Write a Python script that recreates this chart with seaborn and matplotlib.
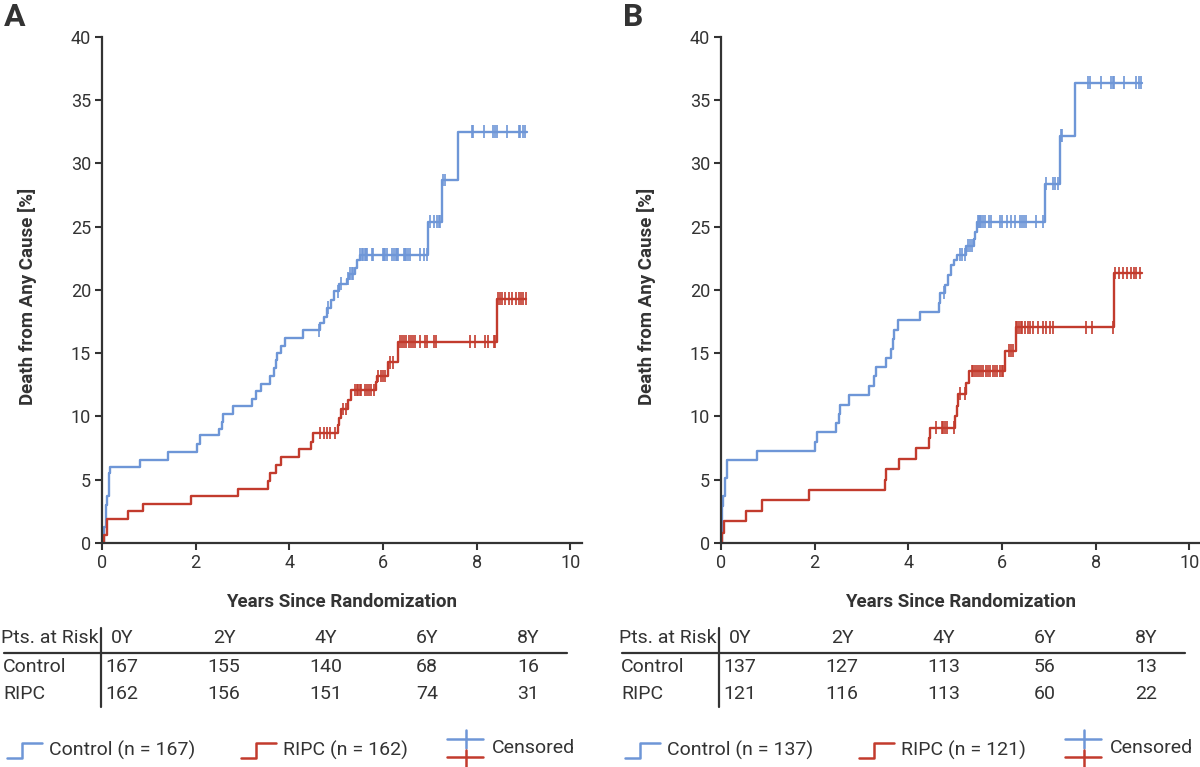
import numpy as np
import pandas as pd
import matplotlib
matplotlib.use("Agg")
import matplotlib.pyplot as plt
from matplotlib.lines import Line2D
import seaborn as sns

# ---------------- data ----------------
# Panel A
a_ctrl_t = [0, 0.05, 0.08, 0.10, 0.15, 0.17, 0.81, 1.40, 2.02, 2.09, 2.49, 2.56, 2.59, 2.79,
            3.21, 3.28, 3.39, 3.59, 3.68, 3.71, 3.74, 3.82, 3.91, 4.29, 4.66, 4.73, 4.81, 4.89,
            4.96, 5.07, 5.23, 5.28, 5.41, 5.44, 5.50, 6.97, 7.26, 7.61, 9.07]
a_ctrl_p = [0, 1.3, 3.0, 3.7, 5.5, 6.0, 6.6, 7.2, 7.8, 8.5, 9.0, 9.6, 10.2, 10.8,
            11.4, 12.0, 12.6, 13.2, 13.8, 14.5, 15.0, 15.6, 16.2, 16.8, 17.4, 17.9, 18.6, 19.2,
            19.9, 20.5, 20.9, 21.3, 21.7, 22.4, 22.8, 25.4, 28.7, 32.5, 32.5]
a_ctrl_c = [4.63, 4.83, 5.05, 5.10, 5.25, 5.30, 5.33, 5.36, 5.52, 5.55, 5.58, 5.61, 5.64, 5.66,
            5.76, 5.79, 6.00, 6.03, 6.05, 6.08, 6.19, 6.24, 6.27, 6.30, 6.33, 6.44, 6.47, 6.50,
            6.53, 6.57, 6.79, 6.87, 6.94, 7.01, 7.08, 7.15, 7.19, 7.22, 7.29, 7.33, 7.90, 7.93,
            8.15, 8.36, 8.40, 8.44, 8.65, 8.90, 8.93, 9.00, 9.04]
a_ripc_t = [0, 0.05, 0.10, 0.55, 0.88, 1.90, 2.91, 3.54, 3.58, 3.71, 3.82, 4.20, 4.47, 4.50,
            5.03, 5.07, 5.10, 5.26, 5.31, 5.85, 5.88, 6.10, 6.32, 8.43, 9.06]
a_ripc_p = [0, 0.6, 1.9, 2.5, 3.1, 3.7, 4.3, 4.9, 5.5, 6.2, 6.8, 7.4, 8.0, 8.7,
            9.3, 9.9, 10.6, 11.3, 12.1, 12.7, 13.2, 14.3, 15.9, 19.3, 19.3]
a_ripc_c = [4.66, 4.73, 4.80, 4.87, 4.98, 5.14, 5.21, 5.41, 5.44, 5.47, 5.50, 5.53, 5.62, 5.66,
            5.70, 5.75, 5.80, 5.90, 5.95, 6.00, 6.05, 6.16, 6.21, 6.37, 6.41, 6.45, 6.50, 6.55,
            6.60, 6.64, 6.69, 6.79, 6.90, 6.95, 7.08, 7.14, 7.86, 7.97, 8.17, 8.25, 8.38, 8.40,
            8.45, 8.50, 8.55, 8.60, 8.70, 8.75, 8.85, 8.90, 8.95, 9.00, 9.05]

# Panel B
b_ctrl_t = [0, 0.03, 0.05, 0.08, 0.12, 0.76, 2.00, 2.06, 2.45, 2.52, 2.55, 2.74, 3.16, 3.26,
            3.32, 3.53, 3.64, 3.67, 3.69, 3.77, 4.24, 4.65, 4.68, 4.78, 4.85, 4.92, 4.97, 5.03,
            5.24, 5.40, 5.43, 5.47, 6.92, 7.23, 7.56, 8.98]
b_ctrl_p = [0, 2.9, 3.7, 5.1, 6.6, 7.3, 8.0, 8.8, 9.5, 10.2, 10.9, 11.7, 12.4, 13.2,
            13.9, 14.6, 15.3, 16.1, 16.8, 17.6, 18.3, 19.0, 19.8, 20.4, 21.2, 22.0, 22.4, 22.8,
            23.5, 24.0, 24.6, 25.4, 28.4, 32.2, 36.4, 36.4]
b_ctrl_c = [4.76, 5.10, 5.14, 5.20, 5.28, 5.32, 5.36, 5.49, 5.51, 5.53, 5.56, 5.60, 5.63, 5.72,
            5.77, 5.95, 6.00, 6.11, 6.20, 6.27, 6.38, 6.43, 6.48, 6.52, 6.73, 6.87, 6.94, 7.08,
            7.14, 7.19, 7.25, 7.28, 7.83, 7.88, 8.12, 8.33, 8.37, 8.40, 8.60, 8.86, 8.93, 8.97]
b_ripc_t = [0, 0.02, 0.06, 0.53, 0.87, 1.88, 3.51, 3.53, 3.80, 4.16, 4.44, 4.47, 5.00, 5.04,
            5.07, 5.24, 5.29, 6.06, 6.29, 8.39, 8.98]
b_ripc_p = [0, 0.8, 1.7, 2.55, 3.4, 4.2, 5.0, 5.85, 6.65, 7.5, 8.3, 9.1, 10.0, 10.8,
            11.8, 12.65, 13.6, 15.2, 17.05, 21.35, 21.35]
b_ripc_c = [4.60, 4.71, 4.74, 4.78, 4.83, 4.98, 5.11, 5.20, 5.35, 5.38, 5.42, 5.46, 5.50, 5.55,
            5.60, 5.65, 5.70, 5.75, 5.80, 5.85, 5.90, 5.95, 6.00, 6.02, 6.14, 6.19, 6.24, 6.30,
            6.33, 6.36, 6.40, 6.43, 6.50, 6.55, 6.60, 6.66, 6.77, 6.87, 6.94, 7.03, 7.09, 7.80,
            7.93, 8.37, 8.42, 8.49, 8.58, 8.68, 8.75, 8.82, 8.87, 8.94]

# risk tables
risk_cols = ["0Y", "2Y", "4Y", "6Y", "8Y"]
a_risk_ctrl = [167, 155, 140, 68, 16]
a_risk_ripc = [162, 156, 151, 74, 31]
b_risk_ctrl = [137, 127, 113, 56, 13]
b_risk_ripc = [121, 116, 113, 60, 22]
a_n = (167, 162)
b_n = (137, 121)

x_ticks = [0, 2, 4, 6, 8, 10]
y_ticks = [0, 5, 10, 15, 20, 25, 30, 35, 40]

# ---------------- style ----------------
BLUE = "#6E96D7"
RED = "#C23B2D"
TXT = "#333333"
pal = {"Control": BLUE, "RIPC": RED}

sns.set_theme(style="white")
plt.rcParams["font.family"] = ["Roboto", "DejaVu Sans"]
plt.rcParams["text.color"] = TXT

fig = plt.figure(figsize=(12, 7.67), dpi=100)
W, H = 1200.0, 767.0


def step_value(t, p, c):
    t = np.asarray(t)
    p = np.asarray(p)
    idx = np.searchsorted(t, np.asarray(c), side="right") - 1
    return p[idx]


def panel(left_px, ct, cp, cc, rt, rp, rc):
    ax = fig.add_axes([left_px / W, 1 - 543 / H, 480 / W, 506 / H])
    curves = pd.concat([
        pd.DataFrame({"t": ct, "p": cp, "g": "Control"}),
        pd.DataFrame({"t": rt, "p": rp, "g": "RIPC"}),
    ], ignore_index=True)
    cens = pd.concat([
        pd.DataFrame({"t": cc, "p": step_value(ct, cp, cc), "g": "Control"}),
        pd.DataFrame({"t": rc, "p": step_value(rt, rp, rc), "g": "RIPC"}),
    ], ignore_index=True)
    sns.lineplot(data=curves, x="t", y="p", hue="g", palette=pal, estimator=None,
                 sort=False, drawstyle="steps-post", linewidth=1.7, legend=False, ax=ax)
    sns.scatterplot(data=cens, x="t", y="p", hue="g", palette=pal, marker="|",
                    s=85, linewidth=1.2, legend=False, ax=ax, zorder=3)
    ax.set_xlim(0, 10.25)
    ax.set_ylim(0, 40)
    ax.set_xticks(x_ticks)
    ax.set_yticks(y_ticks)
    for s in ["top", "right"]:
        ax.spines[s].set_visible(False)
    for s in ["left", "bottom"]:
        ax.spines[s].set_color(TXT)
        ax.spines[s].set_linewidth(1.6)
    ax.tick_params(direction="out", length=5, width=1.5, color=TXT, labelsize=13,
                   labelcolor=TXT, pad=3, left=True, bottom=True)
    ax.set_xlabel("Years Since Randomization", fontsize=13.5, fontweight="bold", color=TXT)
    ax.set_ylabel("Death from Any Cause [%]", fontsize=13.5, fontweight="bold", color=TXT)
    ax.xaxis.set_label_coords(0.5, -0.098)
    ax.yaxis.set_label_coords(-0.135, 0.487)
    return ax


axA = panel(102, a_ctrl_t, a_ctrl_p, a_ctrl_c, a_ripc_t, a_ripc_p, a_ripc_c)
axB = panel(721, b_ctrl_t, b_ctrl_p, b_ctrl_c, b_ripc_t, b_ripc_p, b_ripc_c)

fig.text(4 / W, 1 - 2 / H, "A", fontsize=23, fontweight="bold", color=TXT, va="top", ha="left")
fig.text(623 / W, 1 - 2 / H, "B", fontsize=23, fontweight="bold", color=TXT, va="top", ha="left")

# ---------------- risk tables & legends (overlay in pixel units) ----------------
ov = fig.add_axes([0, 0, 1, 1])
ov.set_xlim(0, W)
ov.set_ylim(H, 0)
ov.axis("off")

col_x = [122, 224, 326, 427, 528]
FS = 14


def table_and_legend(off, ctrl, ripc, n):
    ov.text(off + 1, 638, "Pts. at Risk", fontsize=FS, va="center", ha="left", color=TXT)
    ov.text(off + 3, 667, "Control", fontsize=FS, va="center", ha="left", color=TXT)
    ov.text(off + 3, 694, "RIPC", fontsize=FS, va="center", ha="left", color=TXT)
    for cx, lab, v1, v2 in zip(col_x, risk_cols, ctrl, ripc):
        ov.text(off + cx, 638, lab, fontsize=FS, va="center", ha="center", color=TXT)
        ov.text(off + cx, 667, str(v1), fontsize=FS, va="center", ha="center", color=TXT)
        ov.text(off + cx, 694, str(v2), fontsize=FS, va="center", ha="center", color=TXT)
    ov.add_line(Line2D([off + 4, off + 567], [653, 653], color=TXT, lw=1.6))
    ov.add_line(Line2D([off + 101, off + 101], [628, 707], color=TXT, lw=1.6))
    # legend step icons
    for x0, col, lab in [(7, BLUE, f"Control (n = {n[0]})"), (241, RED, f"RIPC (n = {n[1]})")]:
        ov.add_line(Line2D([off + x0, off + x0 + 15, off + x0 + 15, off + x0 + 35],
                           [758, 758, 743, 743], color=col, lw=1.8))
        ov.text(off + x0 + 42, 750, lab, fontsize=FS, va="center", ha="left", color=TXT)
    # censored icon
    ov.add_line(Line2D([off + 447, off + 483], [739, 739], color=BLUE, lw=1.8))
    ov.add_line(Line2D([off + 466, off + 466], [730, 748], color=BLUE, lw=1.8))
    ov.add_line(Line2D([off + 447, off + 483], [757, 757], color=RED, lw=1.8))
    ov.add_line(Line2D([off + 466, off + 466], [750, 767], color=RED, lw=1.8))
    ov.text(off + 492, 748, "Censored", fontsize=FS, va="center", ha="left", color=TXT)


table_and_legend(0, a_risk_ctrl, a_risk_ripc, a_n)
table_and_legend(618, b_risk_ctrl, b_risk_ripc, b_n)

fig.savefig("out.png", dpi=100)
